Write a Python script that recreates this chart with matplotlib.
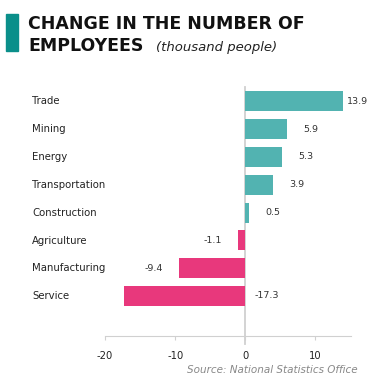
import matplotlib.pyplot as plt
import numpy as np

# Employment change by sector (thousand people)
sectors = ['Trade', 'Mining', 'Energy', 'Transportation', 'Construction',
           'Agriculture', 'Manufacturing', 'Service']
change = [13.9, 5.9, 5.3, 3.9, 0.5, -1.1, -9.4, -17.3]
x_ticks = [-20, -10, 0, 10]

teal = '#52b3b1'
pink = '#e8387c'

fig = plt.figure(figsize=(3.74, 3.81), dpi=100)
ax = fig.add_axes([0.281, 0.118, 0.658, 0.654])

y = np.arange(len(sectors))
colors = [teal if v >= 0 else pink for v in change]
ax.barh(y, change, height=0.72, color=colors, zorder=2)
ax.set_ylim(len(sectors) - 1 + 1.44, -0.52)
ax.set_xlim(-20, 15.1)

# value labels a little away from the bar end, kept inside the axis
for yi, v in zip(y, change):
    pos = v + 3.4 if v >= 0 else v - 3.6
    if pos > 15.1:
        pos = 16
    if pos < -20:
        pos = 3.1
    ax.text(pos, yi, f'{v}', ha='center', va='center', fontsize=6.8,
            color='#333333')

ax.axvline(0, color='#d0d0d0', lw=1.3, zorder=1, ymin=-0.03, clip_on=False)
ax.set_xticks(x_ticks)
ax.set_xticklabels([str(t) for t in x_ticks])
ax.set_yticks([])
for s in ['top', 'right', 'left']:
    ax.spines[s].set_visible(False)
ax.spines['bottom'].set_color('#d0d0d0')
ax.tick_params(axis='x', length=3, color='#d0d0d0', labelsize=7.2,
               labelcolor='#222222', pad=8)

for yi, name in zip(y, sectors):
    fig.text(32 / 374, 1 - (101.5 + yi * 27.8) / 381, name, ha='left',
             va='center', fontsize=7.3, color='#222222')

# header
fig.patches.append(plt.Rectangle((6 / 374, 1 - 51 / 381), 12 / 374, 37 / 381,
                                 transform=fig.transFigure, color='#0a8f8a'))
fig.text(28 / 374, 1 - 24 / 381, 'CHANGE IN THE NUMBER OF', fontsize=12.5,
         fontweight='bold', va='center', color='#111111')
fig.text(28 / 374, 1 - 46 / 381, 'EMPLOYEES', fontsize=12.5,
         fontweight='bold', va='center', color='#111111')
fig.text(156 / 374, 1 - 47 / 381, '(thousand people)', fontsize=9.5,
         style='italic', va='center', color='#222222')

fig.text(358 / 374, 1 - 370 / 381, 'Source: National Statistics Office',
         ha='right', va='center', fontsize=7.5, style='italic', color='#888888')

fig.savefig('out.png', dpi=100)
